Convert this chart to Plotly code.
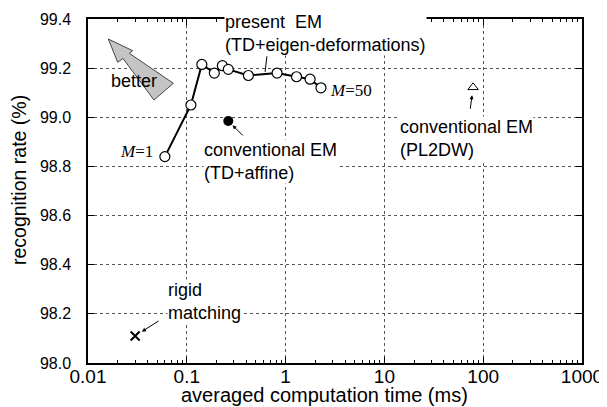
import numpy as np
import plotly.graph_objects as go

# ---- data ----
em_time_ms = [0.060, 0.110, 0.142, 0.190, 0.229, 0.263, 0.42, 0.82, 1.29, 1.77, 2.28]
em_rate = [98.84, 99.05, 99.215, 99.18, 99.21, 99.195, 99.17, 99.18, 99.165, 99.155, 99.12]
affine_time_ms = [0.263]
affine_rate = [98.985]
pl2dw_time_ms = [79]
pl2dw_rate = [99.122]
rigid_time_ms = [0.030]
rigid_rate = [98.11]

x_tickvals = [0.01, 0.1, 1, 10, 100, 1000]
x_ticktext = ["0.01", "0.1", "1", "10", "100", "1000"]
y_tickvals = [98.0, 98.2, 98.4, 98.6, 98.8, 99.0, 99.2, 99.4]
x_minor = [m * 10.0 ** e for e in range(-2, 3) for m in range(2, 10)]

FONT = "Liberation Sans, Arial, sans-serif"
SERIF = "Liberation Serif, Times New Roman, serif"

fig = go.Figure()
fig.add_trace(go.Scatter(
    x=em_time_ms, y=em_rate, mode="lines+markers",
    line=dict(color="black", width=2),
    marker=dict(symbol="circle", size=10, color="white", line=dict(color="black", width=1.2)),
    showlegend=False))
fig.add_trace(go.Scatter(
    x=affine_time_ms, y=affine_rate, mode="markers",
    marker=dict(symbol="circle", size=10, color="black"), showlegend=False))
fig.add_trace(go.Scatter(
    x=pl2dw_time_ms, y=pl2dw_rate, mode="markers",
    marker=dict(symbol="triangle-up-open", size=9, color="black", line=dict(width=1)),
    showlegend=False))
fig.add_trace(go.Scatter(
    x=rigid_time_ms, y=rigid_rate, mode="markers",
    marker=dict(symbol="x-thin", size=9, color="black", line=dict(width=2, color="black")),
    showlegend=False))

L = np.log10

def ann(text, x, y, xanchor="left", font=None, bg="white"):
    fig.add_annotation(text=text, x=L(x), y=y, xref="x", yref="y", showarrow=False,
                       xanchor=xanchor, yanchor="middle", align="left",
                       font=font or dict(family=FONT, size=18, color="black"),
                       bgcolor=bg, borderpad=0)

ann("present\u00a0\u00a0EM<br>(TD+eigen-deformations)", 0.236, 99.339)
ann("better", 0.0167, 99.148, bg="rgba(0,0,0,0)")
ann("<i>M</i>=1", 0.0466, 98.859, xanchor="right",
    font=dict(family=SERIF, size=17, color="black"), bg="rgba(0,0,0,0)")
ann("<i>M</i>=50", 2.75, 99.111,
    font=dict(family=SERIF, size=17, color="black"), bg="rgba(0,0,0,0)")
ann("conventional EM<br>(TD+affine)", 0.147, 98.822)
ann("conventional EM<br>(PL2DW)", 14.2, 98.912)
ann("rigid<br>matching", 0.0635, 98.252)

# leader lines / arrows
fig.add_annotation(x=L(0.62), y=99.185, xref="x", yref="y", ax=2, ay=-17,
                   showarrow=True, arrowhead=0, arrowwidth=1, arrowcolor="black", text="")
fig.add_annotation(x=L(affine_time_ms[0]), y=affine_rate[0], xref="x", yref="y", ax=16, ay=16,
                   showarrow=True, arrowhead=2, arrowsize=0.8, arrowwidth=1, standoff=6,
                   arrowcolor="black", text="")
fig.add_annotation(x=L(pl2dw_time_ms[0]), y=pl2dw_rate[0], xref="x", yref="y", ax=-3, ay=23,
                   showarrow=True, arrowhead=2, arrowsize=0.8, arrowwidth=1, standoff=8,
                   arrowcolor="black", text="")
fig.add_annotation(x=L(rigid_time_ms[0]), y=rigid_rate[0], xref="x", yref="y", ax=25, ay=-16,
                   showarrow=True, arrowhead=2, arrowsize=0.8, arrowwidth=1, standoff=8,
                   arrowcolor="black", text="")

# axis titles (placed as paper annotations, matching the reference offsets)
PW, PH = 494.0, 344.0
fig.add_annotation(text="averaged computation time (ms)", xref="paper", yref="paper",
                   x=(324 - 88) / PW, y=(363 - 395) / PH, showarrow=False,
                   xanchor="center", yanchor="middle",
                   font=dict(family=FONT, size=20, color="black"))
fig.add_annotation(text="recognition rate (%)", xref="paper", yref="paper",
                   x=(19 - 88) / PW, y=(363 - 180) / PH, showarrow=False, textangle=-90,
                   xanchor="center", yanchor="middle",
                   font=dict(family=FONT, size=19.5, color="black"))

# "better" arrow (decoration) in paper coords
def P(px, py):
    return f"{(px - 88) / PW:.4f},{(363 - py) / PH:.4f}"
pts = [(108.3, 39), (132.7, 50.7), (129.3, 53.3), (173.3, 83.3), (154, 100), (123, 58.5), (117.7, 62.3)]
path = "M " + " L ".join(P(*p) for p in pts) + " Z"
fig.add_shape(type="path", path=path, xref="paper", yref="paper", layer="above",
              fillcolor="#c4c4c4", line=dict(color="#444", width=1))

axis_common = dict(showline=True, linecolor="black", linewidth=1.5, mirror="ticks",
                   ticks="inside", ticklen=6, tickcolor="black", tickwidth=1,
                   showgrid=True, gridcolor="#555", griddash="dot", gridwidth=1,
                   zeroline=False, automargin=False)

fig.update_xaxes(type="log", range=[-2, 3], tickmode="array", tickvals=x_tickvals,
                 ticktext=x_ticktext, tickfont=dict(family=FONT, size=19, color="black"),
                 ticklabelstandoff=-5,
                 minor=dict(tickmode="array", tickvals=x_minor, ticks="inside", ticklen=3,
                            tickcolor="black", showgrid=False),
                 **axis_common)
fig.update_yaxes(range=[98.0, 99.4], tickmode="array", tickvals=y_tickvals, tickformat=".1f",
                 tickfont=dict(family=FONT, size=16, color="black"), ticklabelstandoff=12,
                 **axis_common)

# The page body has an 8px default margin; compensate so the plot sits like the reference.
fig.update_layout(width=599, height=399, margin=dict(l=80, r=25, t=11, b=44),
                  plot_bgcolor="white", paper_bgcolor="white",
                  font=dict(family=FONT, color="black"))

fig.write_html("out.html")
